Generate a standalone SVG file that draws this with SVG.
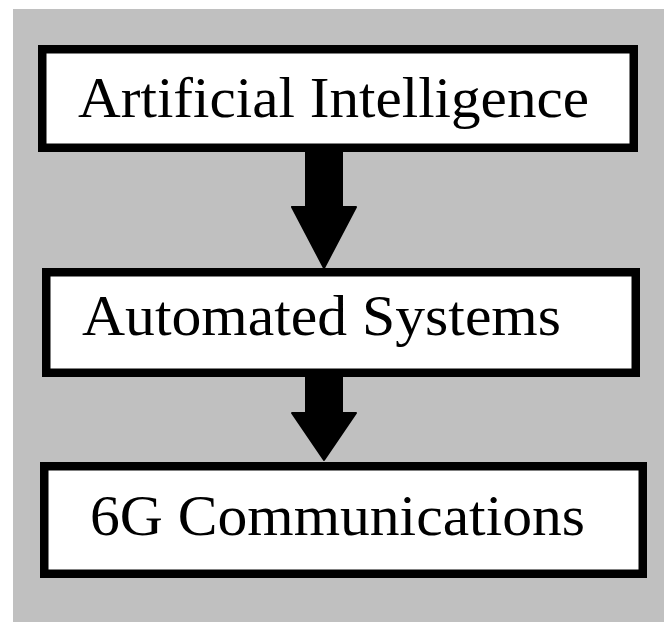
<svg xmlns="http://www.w3.org/2000/svg" width="664" height="622" viewBox="0 0 664 622">
<style>
.box{fill:#fff;stroke:#000;stroke-width:8.5}
.lbl{font-family:"Liberation Serif","DejaVu Serif",serif;font-size:56px;fill:#000}
.arr{fill:#000;stroke:#000;stroke-width:2;stroke-linejoin:round}
</style>
<rect x="0" y="0" width="664" height="622" fill="#fff"/>
<rect x="13" y="9" width="651" height="613" fill="#c0c0c0"/>
<g id="connectors">
<path class="arr" d="M306 152 H342 V207 H356 L324 268 L292 207 H306 Z"/>
<path class="arr" d="M306 377 H342 V413 H356 L324 460 L292 413 H306 Z"/>
</g>
<g id="node-ai">
<rect class="box" x="42.25" y="49.25" width="591.5" height="98.5"/>
<text class="lbl" x="78" y="117" textLength="511" lengthAdjust="spacingAndGlyphs">Artificial Intelligence</text>
</g>
<g id="node-auto">
<rect class="box" x="46.25" y="272.25" width="589.5" height="100.5"/>
<text class="lbl" x="82" y="335" textLength="479" lengthAdjust="spacingAndGlyphs">Automated Systems</text>
</g>
<g id="node-6g">
<rect class="box" x="44.25" y="466.25" width="598.5" height="107.5"/>
<text class="lbl" x="90" y="535" textLength="495" lengthAdjust="spacingAndGlyphs">6G Communications</text>
</g>
</svg>
